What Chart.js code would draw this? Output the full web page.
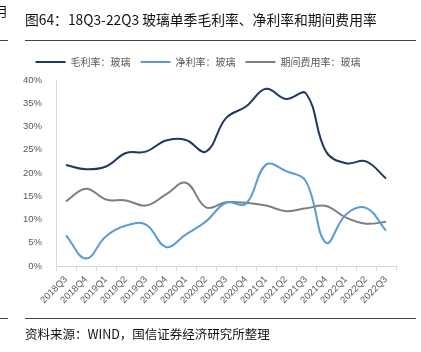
<!DOCTYPE html>
<html>
<head>
<meta charset="utf-8">
<script src="https://cdn.jsdelivr.net/npm/chart.js@4.4.0/dist/chart.umd.min.js"></script>
<style>
  body { margin: 0; background: #fff; }
  #wrap { position: relative; width: 421px; height: 352px; overflow: hidden; font-family: "Noto Sans CJK SC", sans-serif; }
  #box { position: absolute; left: 0; top: 0; width: 421px; height: 352px; }
  .rule { position: absolute; height: 1px; background: #444; }
  #title { position: absolute; left: 25px; top: 9px; font-size: 13.8px; color: #111; white-space: nowrap; }
  #src { position: absolute; left: 25px; top: 324px; font-size: 12.5px; color: #111; white-space: nowrap; }
  #prev { position: absolute; left: -5px; top: 1px; font-size: 13px; color: #111; }
</style>
</head>
<body>
<div id="wrap">
  <div id="box"><canvas id="myChart"></canvas></div>
  <div id="prev">月</div>
  <div id="title">图64：18Q3-22Q3 玻璃单季毛利率、净利率和期间费用率</div>
  <div class="rule" style="left:0;width:8px;top:40px"></div>
  <div class="rule" style="left:25px;width:391px;top:40px"></div>
  <div class="rule" style="left:0;width:8px;top:318px"></div>
  <div class="rule" style="left:25px;width:391px;top:318px"></div>
  <div id="src">资料来源：WIND，国信证券经济研究所整理</div>
</div>
<script>
var quarters = ['2018Q3','2018Q4','2019Q1','2019Q2','2019Q3','2019Q4','2020Q1','2020Q2','2020Q3',
  '2020Q4','2021Q1','2021Q2','2021Q3','2021Q4','2022Q1','2022Q2','2022Q3'];
var grossMargin = [21.7, 20.8, 21.4, 24.3, 24.6, 27.0, 27.1, 24.6, 31.8, 34.3, 38.1, 35.9, 37.1, 24.6, 22.1, 22.5, 18.8];
var netMargin = [6.6, 1.6, 6.4, 8.7, 8.9, 4.1, 6.8, 9.6, 13.6, 13.4, 21.8, 20.4, 18.2, 5.0, 11.1, 12.5, 7.6];
var expenseRate = [13.9, 16.6, 14.3, 14.1, 13.0, 15.4, 17.9, 12.6, 13.7, 13.6, 13.0, 11.8, 12.4, 12.9, 10.4, 9.1, 9.5];
var yTicks = [0, 5, 10, 15, 20, 25, 30, 35, 40];

var axisGray = '#D9D9D9';
var textGray = '#595959';

// a little extra room under the legend
var legendGap = {
  id: 'legendGap',
  beforeInit: function (chart) {
    var fit = chart.legend.fit;
    chart.legend.fit = function () {
      fit.bind(chart.legend)();
      this.height += 3;
    };
  }
};

var ctx = document.getElementById('myChart').getContext('2d');
var myChart = new Chart(ctx, {
  type: 'line',
  data: {
    labels: quarters,
    datasets: [{
      label: '毛利率：玻璃',
      data: grossMargin,
      borderColor: '#1F3864',
      backgroundColor: '#1F3864',
      borderWidth: 2,
      pointRadius: 0,
      tension: 0.4
    }, {
      label: '净利率：玻璃',
      data: netMargin,
      borderColor: '#5B9BD5',
      backgroundColor: '#5B9BD5',
      borderWidth: 2,
      pointRadius: 0,
      tension: 0.4
    }, {
      label: '期间费用率：玻璃',
      data: expenseRate,
      borderColor: '#7F7F7F',
      backgroundColor: '#7F7F7F',
      borderWidth: 2,
      pointRadius: 0,
      tension: 0.4
    }]
  },
  plugins: [legendGap],
  options: {
    responsive: true,
    maintainAspectRatio: false,
    animation: false,
    layout: { padding: { left: 0, right: 25, top: 47, bottom: 42 } },
    plugins: {
      tooltip: { enabled: false },
      legend: {
        position: 'top',
        labels: {
          boxWidth: 30,
          boxHeight: 2,
          padding: 10,
          color: textGray,
          font: { family: '"Noto Sans CJK SC", sans-serif', size: 10 },
          generateLabels: function (chart) {
            return Chart.defaults.plugins.legend.labels.generateLabels(chart).map(function (l) {
              l.lineWidth = 0;
              l.fillStyle = l.strokeStyle;
              return l;
            });
          }
        }
      }
    },
    scales: {
      x: {
        offset: true,
        grid: { drawOnChartArea: false, color: axisGray, tickLength: 5, offset: true },
        border: { color: axisGray },
        ticks: {
          color: textGray,
          minRotation: 45,
          maxRotation: 45,
          autoSkip: false,
          font: { family: 'Arial, "Liberation Sans", sans-serif', size: 9.5 }
        },
        afterFit: function (scale) { scale.height = 44; }
      },
      y: {
        min: 0,
        max: 40,
        afterBuildTicks: function (scale) {
          scale.ticks = yTicks.map(function (v) { return { value: v }; });
        },
        grid: { display: false },
        border: { color: axisGray },
        ticks: {
          color: textGray,
          padding: 6,
          font: { family: 'Arial, "Liberation Sans", sans-serif', size: 9.5 },
          callback: function (v) { return v + '%'; }
        },
        afterFit: function (scale) { scale.width = 56; }
      }
    }
  }
});
</script>
</body>
</html>
